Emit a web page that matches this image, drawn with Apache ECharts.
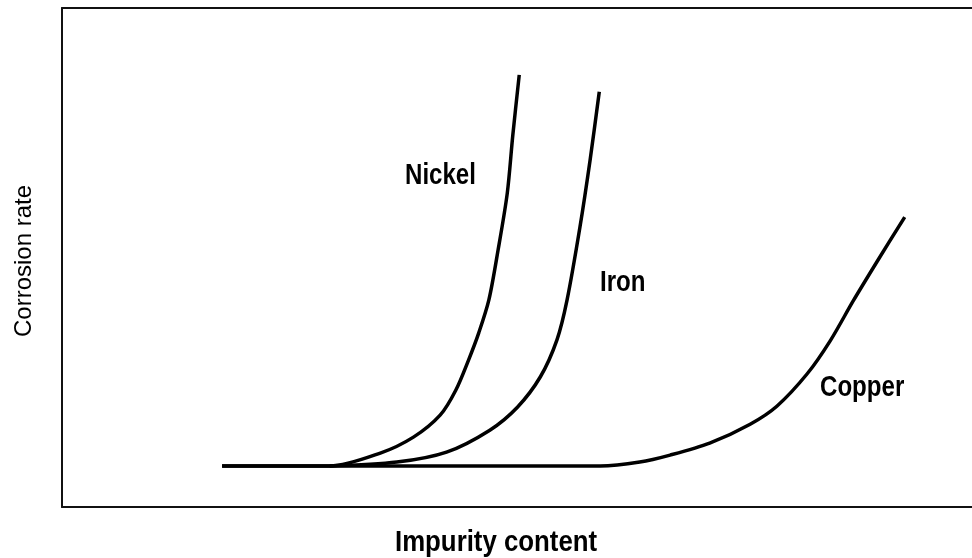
<!DOCTYPE html>
<html>
<head>
<meta charset="utf-8">
<script src="https://cdn.jsdelivr.net/npm/echarts@6/dist/echarts.min.js"></script>
<style>
html, body { margin: 0; padding: 0; background: #fff; overflow: hidden; }
#main { width: 972px; height: 558px; }
</style>
</head>
<body>
<div id="main"></div>
<script>
// impurity content (x) vs corrosion rate (y), arbitrary units 0-100
var nickelX = [17.4, 29.1, 34.6, 38.2, 41.1, 42.8, 44.2, 45.3, 46.4, 47.4, 48.4, 49.0, 49.7];
var nickelY = [8.2, 8.2, 10.8, 14.0, 18.4, 23.4, 29.5, 34.9, 41.5, 51.5, 62.9, 74.5, 86.6];

var ironX = [29.1, 36.4, 41.8, 46.5, 49.5, 52.0, 53.8, 54.9, 56.3, 57.4, 58.4];
var ironY = [8.2, 9.0, 11.0, 15.4, 20.0, 26.1, 33.5, 41.5, 56.1, 69.5, 83.2];

var copperX = [17.4, 58.5, 62.8, 66.1, 70.4, 74.8, 77.7, 81.0, 83.5, 86.0, 88.9, 91.6];
var copperY = [8.2, 8.2, 9.0, 10.4, 12.8, 16.6, 20.2, 26.7, 33.3, 41.3, 50.1, 58.1];

function pairs(xs, ys) {
	var out = [];
	for (var i = 0; i < xs.length; i++) {
		out.push([xs[i], ys[i]]);
	}
	return out;
}

var chart = echarts.init(document.getElementById('main'));

// no narrow font installed, so squeeze a bold sans horizontally
var labelFont = 'bold 29px "Liberation Sans", Arial, sans-serif';
var frame = { show: true, lineStyle: { color: '#111', width: 2 } };

function curve(name, data) {
	return {
		name: name,
		type: 'line',
		data: data,
		smooth: 0.3,
		symbol: 'none',
		lineStyle: { color: '#000', width: 3.5 },
		z: 3
	};
}

function label(text, x, y, font, sx) {
	return {
		type: 'text',
		x: x,
		y: y,
		scaleX: sx || 0.83,
		style: { text: text, font: font || labelFont, fill: '#000' }
	};
}

function bareAxis(pos, line) {
	return {
		type: 'value',
		position: pos,
		min: 0,
		max: 100,
		axisLine: line ? frame : { show: false },
		axisTick: { show: false },
		axisLabel: { show: false },
		splitLine: { show: false }
	};
}

var option = {
	animation: false,
	backgroundColor: '#fff',
	grid: {
		left: 62,
		width: 920,
		top: 8,
		bottom: 51,
		outerBoundsMode: 'none'
	},
	// box frame: bottom, top and left lines only; right side runs off the page
	xAxis: [bareAxis('bottom', true), bareAxis('top', true)],
	yAxis: bareAxis('left', true),
	series: [
		curve('Copper', pairs(copperX, copperY)),
		curve('Iron', pairs(ironX, ironY)),
		curve('Nickel', pairs(nickelX, nickelY))
	],
	graphic: [
		label('Nickel', 405, 161),
		label('Iron', 600, 268),
		label('Copper', 820, 373),
		label('Impurity content', 395, 528, 'bold 30px "Liberation Sans", Arial, sans-serif', 0.86),
		{
			type: 'text',
			x: 24, y: 261,
			rotation: Math.PI / 2,
			style: {
				text: 'Corrosion rate',
				font: '24px "Liberation Sans", Arial, sans-serif',
				fill: '#000',
				align: 'center',
				verticalAlign: 'middle'
			}
		},
		{
			// keep the page edge clean
			type: 'rect',
			shape: { x: 950, y: 12, width: 30, height: 490 },
			style: { fill: '#fff' },
			z: -1
		}
	]
};

chart.setOption(option);
</script>
</body>
</html>
